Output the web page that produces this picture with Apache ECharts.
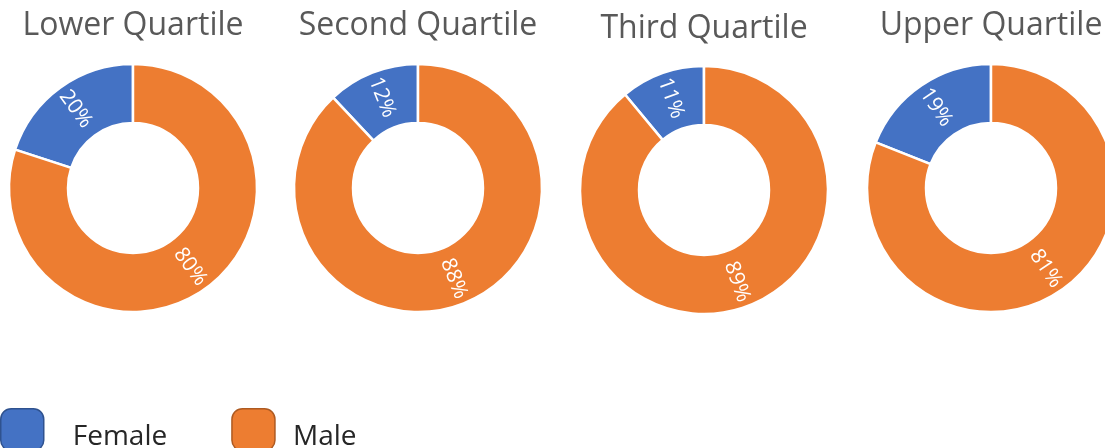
<!DOCTYPE html>
<html>
<head>
<meta charset="utf-8">
<script src="https://cdn.jsdelivr.net/npm/echarts@6/dist/echarts.min.js"></script>
<style>
  html, body { margin: 0; padding: 0; background: #fff; }
  #chart { width: 1105px; height: 448px; }
</style>
</head>
<body>
<div id="chart"></div>
<script>
const quartiles = ['Lower Quartile', 'Second Quartile', 'Third Quartile', 'Upper Quartile'];
const genders = ['Female', 'Male'];
const femaleValues = [20, 12, 11, 19];
const maleValues = [80, 88, 89, 81];

const colors = { Female: '#4472C4', Male: '#ED7D31' };
const centersX = [133, 418, 704, 991];
const centersY = [188, 188, 190, 188];
const titleY = [26, 26, 29, 26];

const chart = echarts.init(document.getElementById('chart'), null, { renderer: 'canvas' });

const series = quartiles.map((q, i) => ({
  type: 'pie',
  name: q,
  center: [centersX[i], centersY[i]],
  radius: [65, 124],
  clockwise: false,
  startAngle: 90,
  avoidLabelOverlap: false,
  silent: true,
  itemStyle: { borderColor: '#fff', borderWidth: 2.5 },
  label: {
    show: true,
    position: 'inside',
    rotate: 'radial',
    formatter: '{c}%',
    color: '#fff',
    fontSize: 21,
    fontFamily: 'Open Sans'
  },
  labelLine: { show: false },
  data: [
    { name: genders[0], value: femaleValues[i], itemStyle: { color: colors.Female } },
    { name: genders[1], value: maleValues[i], itemStyle: { color: colors.Male } }
  ]
}));

const titles = quartiles.map((q, i) => ({
  type: 'text',
  x: centersX[i],
  y: titleY[i],
  style: {
    text: q,
    fontSize: 32,
    fontFamily: 'Open Sans',
    fill: '#595959',
    textAlign: 'center',
    textVerticalAlign: 'middle'
  }
}));

const legendText = { fontSize: 28, fontFamily: 'Open Sans', color: '#262626' };

chart.setOption({
  animation: false,
  backgroundColor: '#fff',
  legend: {
    left: 0,
    top: 408,
    padding: 0,
    itemWidth: 43,
    itemHeight: 42,
    itemGap: 64,
    icon: 'roundRect',
    formatter: name => (name === 'Female' ? '{f|' + name + '}' : '{m|' + name + '}'),
    textStyle: {
      fontSize: 28,
      fontFamily: 'Open Sans',
      color: '#262626',
      rich: {
        f: Object.assign({ padding: [14, 0, 0, 24] }, legendText),
        m: Object.assign({ padding: [14, 0, 0, 13] }, legendText)
      }
    },
    data: [
      { name: 'Female', itemStyle: { color: colors.Female, borderColor: '#2F528F', borderWidth: 1.5 } },
      { name: 'Male', itemStyle: { color: colors.Male, borderColor: '#AE5A21', borderWidth: 1.5 } }
    ]
  },
  graphic: titles,
  series: series
});
</script>
</body>
</html>
